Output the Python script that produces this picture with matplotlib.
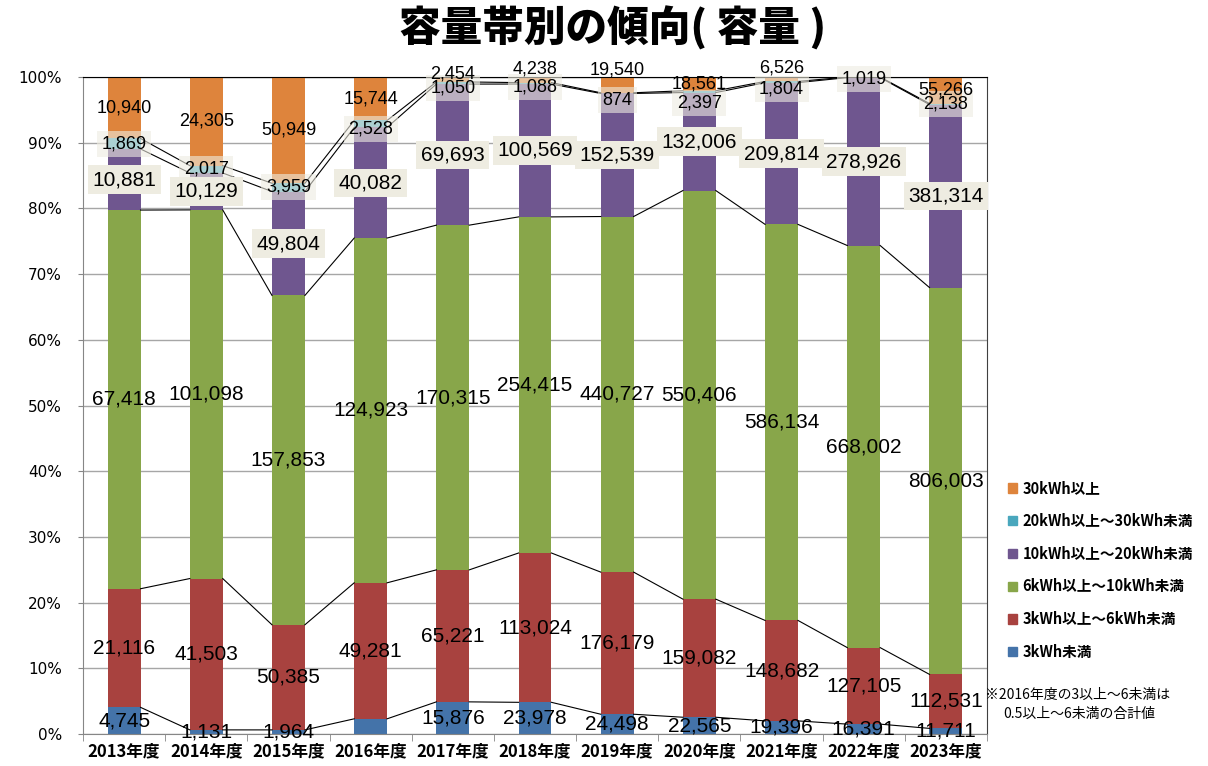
import numpy as np
import matplotlib.pyplot as plt
from matplotlib.patches import Patch

plt.rcParams['font.family'] = ['Noto Sans CJK JP', 'DejaVu Sans']

years = ['2013年度', '2014年度', '2015年度', '2016年度', '2017年度', '2018年度',
         '2019年度', '2020年度', '2021年度', '2022年度', '2023年度']

# 台数（下から順に積み上げ）
under3 = [4745, 1131, 1964, 5500, 15876, 23978, 24498, 22565, 19396, 16391, 11711]
kw3_6 = [21116, 41503, 50385, 49281, 65221, 113024, 176179, 159082, 148682, 127105, 112531]
kw6_10 = [67418, 101098, 157853, 124923, 170315, 254415, 440727, 550406, 586134, 668002, 806003]
kw10_20 = [10881, 10129, 49804, 40082, 69693, 100569, 152539, 132006, 209814, 278926, 381314]
kw20_30 = [1869, 2017, 3959, 2528, 1050, 1088, 874, 2397, 1804, 1019, 2138]
kw30 = [10940, 24305, 50949, 15744, 2454, 4238, 19540, 18561, 6526, 0, 55266]

names = ['3kWh未満', '3kWh以上～6kWh未満', '6kWh以上～10kWh未満',
         '10kWh以上～20kWh未満', '20kWh以上～30kWh未満', '30kWh以上']
colors = ['#4473A9', '#A8423F', '#88A64A', '#6F568F', '#49A7BD', '#DE843C']

# ラベルを出さない箇所 (系列, 年)
hidden = {(0, 3), (5, 9)}
# 上の方で重なるラベルの位置調整 (pixel, 上が正)
nudge = {(5, 4): 5, (5, 5): 11, (5, 6): 15, (5, 8): 11,
         (4, 4): -5, (4, 5): -4, (4, 6): -7, (4, 7): -11, (4, 8): -7, (4, 9): -2,
         (4, 3): -5}

data = np.array([under3, kw3_6, kw6_10, kw10_20, kw20_30, kw30], dtype=float)
pct = data / data.sum(axis=0) * 100
tops = np.cumsum(pct, axis=0)
bottoms = tops - pct

fig = plt.figure(figsize=(12.08, 7.66), dpi=100)
ax = fig.add_axes([83/1208, 32/766, (987-83)/1208, (734-77)/766])
x = np.arange(len(years))
w = 0.4

for k in range(len(names)):
    ax.bar(x, pct[k], w, bottom=bottoms[k], color=colors[k], zorder=2)

# 区分線
for k in range(len(names)):
    for i in range(len(x) - 1):
        ax.plot([x[i] + w/2, x[i+1] - w/2], [tops[k][i], tops[k][i+1]],
                color='black', lw=0.8, zorder=3)

# データラベル
for k in range(len(names)):
    for i in range(len(x)):
        if (k, i) in hidden:
            continue
        y = (bottoms[k][i] + tops[k][i]) / 2
        fs = 15 if k <= 3 else 13
        bbox = None
        if k == 3:
            bbox = dict(boxstyle='square,pad=0.22', facecolor='#EEECE1', edgecolor='none')
        elif k == 4:
            bbox = dict(boxstyle='square,pad=0.25', facecolor='#EEECE1', edgecolor='none', alpha=0.6)
        ax.annotate(f"{int(data[k][i]):,}", (x[i], y), xytext=(0, nudge.get((k, i), 0)),
                    textcoords='offset pixels', ha='center', va='center', fontsize=fs,
                    family='Liberation Sans', bbox=bbox, zorder=5, annotation_clip=False)

ax.set_xlim(-0.5, len(x) - 0.5)
ax.set_ylim(0, 100)
ax.set_yticks(np.arange(0, 101, 10))
ax.set_yticklabels([f"{v}%" for v in range(0, 101, 10)], family='DejaVu Sans', fontsize=11)
ax.tick_params(axis='y', length=3.6, color='#868686', pad=11.5)
ax.set_xticks(x)
ax.set_xticklabels(years, fontsize=12, fontweight='bold')
ax.tick_params(axis='x', which='major', length=0, pad=6)
ax.set_xticks(np.arange(-0.5, len(x), 1), minor=True)
ax.tick_params(axis='x', which='minor', length=5, color='#868686')

ax.yaxis.grid(True, color='#A6A6A6', lw=1)
ax.set_axisbelow(True)
ax.spines['left'].set_color('#868686')
ax.spines['bottom'].set_color('#868686')
ax.spines['top'].set_color('black')
ax.spines['right'].set_color('#404040')

handles = [Patch(color=c) for c in colors[::-1]]
fig.legend(handles, names[::-1], loc='upper left', bbox_to_anchor=(995/1208, 1 - 467/766),
           frameon=False, prop={'weight': 'bold', 'size': 10.5}, handlelength=0.6,
           handleheight=0.6, handletextpad=0.4, labelspacing=1.15)

fig.text(985/1208, 1 - 695/766, '※2016年度の3以上～6未満は', fontsize=10, va='center')
fig.text(1003/1208, 1 - 714/766, '0.5以上～6未満の合計値', fontsize=10, va='center')

fig.text(613/1208, 1 - 28/766, '容量帯別の傾向( 容量 )', ha='center', va='center',
         fontsize=30, fontweight='heavy')

fig.savefig('out.png', dpi=100)
